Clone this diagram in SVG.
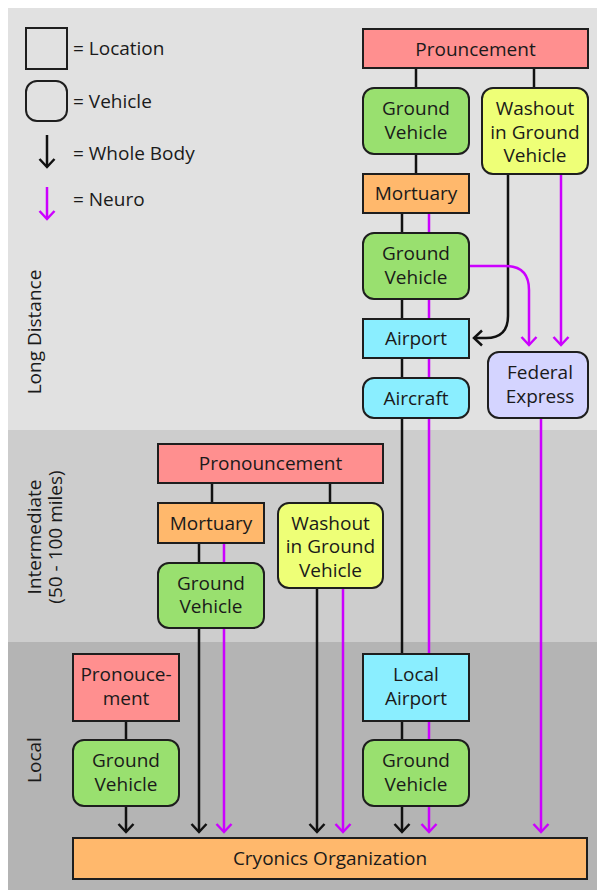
<svg xmlns="http://www.w3.org/2000/svg" width="597" height="890" viewBox="0 0 597 890">
<defs>
<style>
text{font-family:"Open Sans","DejaVu Sans","Liberation Sans",sans-serif;font-size:19px;fill:#1a1a1a}
.c{text-anchor:middle}
.box{stroke:#1e1e1e;stroke-width:2}
.pink{fill:#ff8f8f}.green{fill:#99e06f}.yellow{fill:#eeff77}.orange{fill:#ffb86c}.cyan{fill:#8aeeff}.lav{fill:#d4d4ff}
.k{stroke:#111;stroke-width:2.5;fill:none}
.p{stroke:#cc00ff;stroke-width:2.5;fill:none}
.ka{marker-end:url(#ak)}
.pa{marker-end:url(#ap)}
</style>
<marker id="ak" markerWidth="18" markerHeight="18" refX="10" refY="9" orient="auto" markerUnits="userSpaceOnUse">
<path d="M2,1.5 L10,9 L2,16.5" fill="none" stroke="#111" stroke-width="2.5"/>
</marker>
<marker id="ap" markerWidth="18" markerHeight="18" refX="10" refY="9" orient="auto" markerUnits="userSpaceOnUse">
<path d="M2,1.5 L10,9 L2,16.5" fill="none" stroke="#cc00ff" stroke-width="2.5"/>
</marker>
</defs>
<rect x="0" y="0" width="597" height="890" fill="#ffffff"/>
<rect x="8" y="8" width="589" height="422" fill="#e1e1e1"/>
<rect x="8" y="430" width="589" height="212" fill="#cdcdcd"/>
<rect x="8" y="642" width="589" height="248" fill="#b4b4b4"/>

<g id="bands">
<text transform="translate(41,332) rotate(-90)" class="c">Long Distance</text>
<text transform="translate(41,537) rotate(-90)" class="c">Intermediate</text>
<text transform="translate(62,537) rotate(-90)" class="c">(50 - 100 miles)</text>
<text transform="translate(41,760) rotate(-90)" class="c">Local</text>
</g>

<g id="legend">
<rect x="26" y="28" width="41" height="41" fill="none" class="box"/>
<text x="73" y="55">= Location</text>
<rect x="26" y="81" width="41" height="40" rx="11" fill="none" class="box"/>
<text x="73" y="108">= Vehicle</text>
<line x1="47" y1="135" x2="47" y2="167" class="k ka"/>
<text x="73" y="160">= Whole Body</text>
<line x1="47" y1="187" x2="47" y2="219" class="p pa"/>
<text x="73" y="206">= Neuro</text>
</g>

<g id="connectors">
<line x1="416" y1="68" x2="416" y2="88" class="k"/>
<line x1="534" y1="68" x2="534" y2="88" class="k"/>
<line x1="416" y1="154" x2="416" y2="174" class="k"/>
<line x1="402" y1="213" x2="402" y2="832" class="k ka"/>
<line x1="429" y1="213" x2="429" y2="832" class="p pa"/>
<path d="M508,174 V316 Q508,338 486,338 H474" class="k ka"/>
<line x1="561" y1="174" x2="561" y2="345" class="p pa"/>
<path d="M469,266 H505 Q529,266 529,290 V345" class="p pa"/>
<line x1="541" y1="418" x2="541" y2="832" class="p pa"/>
<line x1="212" y1="483" x2="212" y2="503" class="k"/>
<line x1="330" y1="483" x2="330" y2="503" class="k"/>
<line x1="199" y1="543" x2="199" y2="832" class="k ka"/>
<line x1="224" y1="543" x2="224" y2="832" class="p pa"/>
<line x1="317" y1="588" x2="317" y2="832" class="k ka"/>
<line x1="343" y1="588" x2="343" y2="832" class="p pa"/>
<line x1="126" y1="721" x2="126" y2="740" class="k"/>
<line x1="126" y1="806" x2="126" y2="832" class="k ka"/>
</g>

<g id="ld-pronouncement"><rect x="363" y="29" width="225" height="39" class="box pink"/><text x="475.5" y="55.5" class="c">Prouncement</text></g>
<g id="ld-ground1"><rect x="363" y="88" width="106" height="66" rx="11" class="box green"/><text x="416" y="115" class="c">Ground</text><text x="416" y="138.5" class="c">Vehicle</text></g>
<g id="ld-washout"><rect x="482" y="88" width="106" height="86" rx="11" class="box yellow"/><text x="535" y="115" class="c">Washout</text><text x="535" y="138.5" class="c">in Ground</text><text x="535" y="162" class="c">Vehicle</text></g>
<g id="ld-mortuary"><rect x="363" y="174" width="106" height="39" class="box orange"/><text x="416" y="200" class="c">Mortuary</text></g>
<g id="ld-ground2"><rect x="363" y="233" width="106" height="66" rx="11" class="box green"/><text x="416" y="260" class="c">Ground</text><text x="416" y="283.5" class="c">Vehicle</text></g>
<g id="ld-airport"><rect x="363" y="319" width="106" height="39" class="box cyan"/><text x="416" y="345" class="c">Airport</text></g>
<g id="ld-aircraft"><rect x="363" y="378" width="106" height="40" rx="11" class="box cyan"/><text x="416" y="404.5" class="c">Aircraft</text></g>
<g id="ld-fedex"><rect x="488" y="352" width="100" height="66" rx="11" class="box lav"/><text x="540" y="379" class="c">Federal</text><text x="540" y="402.5" class="c">Express</text></g>

<g id="im-pronouncement"><rect x="158" y="444" width="225" height="39" class="box pink"/><text x="270.5" y="470" class="c">Pronouncement</text></g>
<g id="im-mortuary"><rect x="158" y="503" width="106" height="40" class="box orange"/><text x="211" y="529.5" class="c">Mortuary</text></g>
<g id="im-washout"><rect x="278" y="503" width="105" height="85" rx="11" class="box yellow"/><text x="330.5" y="529.5" class="c">Washout</text><text x="330.5" y="553" class="c">in Ground</text><text x="330.5" y="576.5" class="c">Vehicle</text></g>
<g id="im-ground"><rect x="158" y="563" width="106" height="65" rx="11" class="box green"/><text x="211" y="589.5" class="c">Ground</text><text x="211" y="613" class="c">Vehicle</text></g>

<g id="lo-pronoucement"><rect x="73" y="654" width="106" height="67" class="box pink"/><text x="126" y="681" class="c">Pronouce-</text><text x="126" y="704.5" class="c">ment</text></g>
<g id="lo-ground1"><rect x="73" y="740" width="106" height="66" rx="11" class="box green"/><text x="126" y="767" class="c">Ground</text><text x="126" y="790.5" class="c">Vehicle</text></g>
<g id="lo-airport"><rect x="363" y="654" width="106" height="67" class="box cyan"/><text x="416" y="681" class="c">Local</text><text x="416" y="704.5" class="c">Airport</text></g>
<g id="lo-ground2"><rect x="363" y="740" width="106" height="66" rx="11" class="box green"/><text x="416" y="767" class="c">Ground</text><text x="416" y="790.5" class="c">Vehicle</text></g>
<g id="cryonics"><rect x="73" y="838" width="514" height="41" class="box orange"/><text x="330" y="865" class="c">Cryonics Organization</text></g>
</svg>
